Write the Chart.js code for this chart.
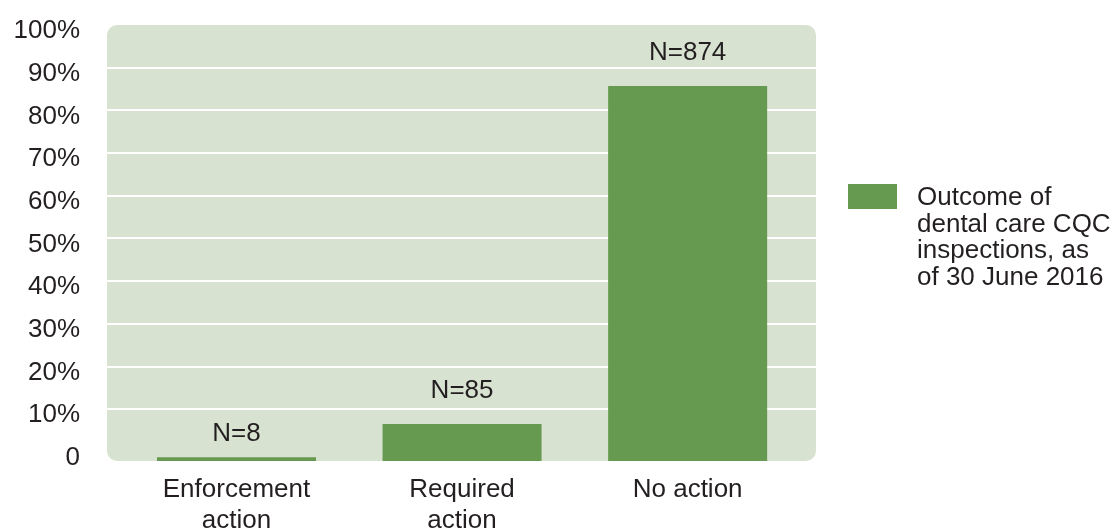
<!DOCTYPE html>
<html>
<head>
<meta charset="utf-8">
<title>Outcome of dental care CQC inspections</title>
<script src="https://cdn.jsdelivr.net/npm/chart.js@4.4.1/dist/chart.umd.min.js"></script>
<style>
    body { margin: 0; background: #ffffff; }
    #wrap { position: relative; width: 1120px; height: 529px; }
    #legend {
        position: absolute;
        left: 848px;
        top: 183px;
        font-family: 'Liberation Sans', Arial, sans-serif;
        font-size: 26px;
        line-height: 26.5px;
        color: #231f20;
    }
    #legend .box {
        position: absolute;
        left: 0;
        top: 1px;
        width: 49px;
        height: 25px;
    }
    #legend .text { margin-left: 69px; white-space: nowrap; }
</style>
</head>
<body>
<div id="wrap">
    <canvas id="chart"></canvas>
    <div id="legend"></div>
</div>
<script>
// Data
const categories = [['Enforcement', 'action'], ['Required', 'action'], 'No action'];
const percentValues = [0.85, 8.5, 86.0];      // share of inspections, %
const inspectionCounts = [8, 85, 874];         // N shown above each bar
const yTickValues = [0, 10, 20, 30, 40, 50, 60, 70, 80, 90, 100];
const seriesLabelLines = ['Outcome of', 'dental care CQC', 'inspections, as', 'of 30 June 2016'];

const barColor = '#679a51';
const plotColor = '#d8e2d1';
const textColor = '#231f20';

Chart.defaults.font.family = "'Liberation Sans', Arial, sans-serif";
Chart.defaults.font.size = 26;
Chart.defaults.color = textColor;

// Rounded light green plot background
const plotBackground = {
    id: 'plotBackground',
    beforeDraw(chart) {
        const { ctx, chartArea } = chart;
        ctx.save();
        ctx.fillStyle = plotColor;
        ctx.beginPath();
        ctx.roundRect(chartArea.left, chartArea.top, chartArea.right - chartArea.left, chartArea.bottom - chartArea.top, 10);
        ctx.fill();
        ctx.restore();
    }
};

// "N=..." labels above the bars
const countLabels = {
    id: 'countLabels',
    afterDatasetsDraw(chart) {
        const { ctx } = chart;
        const meta = chart.getDatasetMeta(0);
        ctx.save();
        ctx.font = "26px 'Liberation Sans', Arial, sans-serif";
        ctx.fillStyle = textColor;
        ctx.textAlign = 'center';
        ctx.textBaseline = 'middle';
        meta.data.forEach((bar, i) => {
            const h = bar.base - bar.y;
            const y = bar.y - 20 - Math.min(h, 13);
            ctx.fillText('N=' + inspectionCounts[i], bar.x, y);
        });
        ctx.restore();
    }
};

const ctx = document.getElementById('chart').getContext('2d');

const chart = new Chart(ctx, {
    type: 'bar',
    data: {
        datasets: [{
            label: seriesLabelLines.join(' '),
            data: percentValues.map((v, i) => ({ x: i, y: v })),
            backgroundColor: barColor,
            borderWidth: 0,
            categoryPercentage: 1,
            barPercentage: 0.705,
            xAxisID: 'x',
            yAxisID: 'y'
        }]
    },
    options: {
        responsive: true,
        maintainAspectRatio: false,
        animation: false,
        layout: { padding: { top: 25, right: 304, bottom: 0, left: 0 } },
        plugins: {
            legend: { display: false },
            tooltip: { enabled: false }
        },
        scales: {
            x: {
                type: 'linear',
                offset: false,
                min: -0.574,
                max: 2.569,
                grid: { display: false },
                border: { display: false },
                afterBuildTicks: scale => {
                    scale.ticks = categories.map((c, i) => ({ value: i }));
                },
                afterFit: scale => {
                    scale.height = 68;
                    scale.paddingLeft = 0;
                    scale.paddingRight = 0;
                },
                ticks: {
                    padding: 5,
                    maxRotation: 0,
                    autoSkip: false,
                    font: { size: 26, lineHeight: 1.2 },
                    callback: value => categories[value]
                }
            },
            // value axis for the bars
            y: {
                type: 'linear',
                display: false,
                min: 0,
                max: 100
            },
            // gridlines and tick labels as printed
            yTicks: {
                type: 'linear',
                position: 'left',
                min: -2.13,
                max: 100,
                border: { display: false },
                grid: {
                    drawTicks: false,
                    lineWidth: 2,
                    color: c => (c.tick && c.tick.value > 0 && c.tick.value < 100) ? '#ffffff' : 'rgba(0,0,0,0)'
                },
                afterBuildTicks: scale => {
                    scale.ticks = yTickValues.map(v => ({ value: v }));
                },
                afterFit: scale => {
                    scale.width = 107;
                    scale.paddingTop = 0;
                    scale.paddingBottom = 0;
                },
                ticks: {
                    padding: 27,
                    labelOffset: 6,
                    font: { size: 26 },
                    callback: value => value === 0 ? '0' : value + '%'
                }
            }
        }
    },
    plugins: [plotBackground, countLabels]
});

// HTML legend built from the dataset
const legend = document.getElementById('legend');
const ds = chart.data.datasets[0];
legend.innerHTML = '<div class="box" style="background:' + ds.backgroundColor + '"></div>' +
    '<div class="text">' + seriesLabelLines.join('<br>') + '</div>';
</script>
</body>
</html>
